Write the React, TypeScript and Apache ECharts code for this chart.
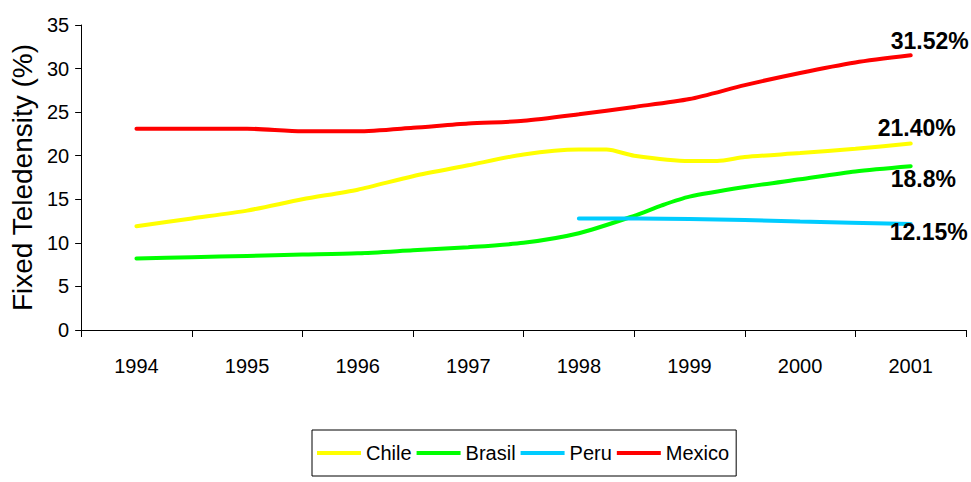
import React, { useEffect, useRef } from "react";
import * as echarts from "echarts";

const years = ["1994", "1995", "1996", "1997", "1998", "1999", "2000", "2001"];
const seriesNames = ["Chile", "Brasil", "Peru", "Mexico"];
const seriesColors = ["#FFFF00", "#00FF00", "#00CCFF", "#FF0000"];

const chileT = [1994, 1994.5, 1995, 1995.5, 1996, 1996.5, 1997, 1997.5, 1998, 1998.25, 1998.5, 1999, 1999.25, 1999.5, 2000, 2000.5, 2001];
const chile = [11.9, 12.8, 13.7, 15.0, 16.1, 17.65, 18.9, 20.15, 20.7, 20.7, 20.0, 19.4, 19.4, 19.85, 20.3, 20.8, 21.4];

const brasilT = [1994, 1994.5, 1995, 1995.5, 1996, 1996.5, 1997, 1997.5, 1998, 1998.5, 1998.75, 1999, 1999.5, 2000, 2000.5, 2001];
const brasil = [8.2, 8.35, 8.5, 8.65, 8.8, 9.15, 9.5, 10.0, 11.1, 13.1, 14.3, 15.3, 16.4, 17.3, 18.2, 18.8];

const peruT = [1998, 1999, 2000, 2001];
const peru = [12.8, 12.75, 12.45, 12.15];

const mexicoT = [1994, 1995, 1995.5, 1996, 1996.5, 1997, 1997.5, 1998, 1998.5, 1999, 1999.5, 2000, 2000.5, 2001];
const mexico = [23.1, 23.1, 22.8, 22.8, 23.2, 23.7, 24.0, 24.75, 25.6, 26.5, 28.1, 29.5, 30.7, 31.52];

const endLabels = ["21.40%", "18.8%", "12.15%", "31.52%"];

const yTitle = "Fixed Teledensity (%)";

const FONT = "'Liberation Sans', Arial, sans-serif";

export default function App() {
  const ref = useRef<HTMLDivElement>(null);
  useEffect(() => {
    if (!ref.current) return;
    const chart = echarts.init(ref.current, undefined, { renderer: "svg" });

    // quarter slots from first boundary to last boundary
    const first = Number(years[0]) - 0.5;
    const last = Number(years[years.length - 1]) + 0.5;
    const slots: string[] = [];
    for (let t = first; t <= last + 1e-9; t += 0.25) slots.push(String(t));

    const ts = [chileT, brasilT, peruT, mexicoT];
    const vs = [chile, brasil, peru, mexico];
    const labelOffsets = [
      [-33, -16],
      [-20, 13],
      [-21, 8],
      [-20, -14],
    ];

    const series = seriesNames.map((name, i) => {
      const data = ts[i].map((t, j) => {
        const isLast = j === ts[i].length - 1;
        const item: any = { value: [String(t), vs[i][j]] };
        if (isLast) {
          item.label = {
            show: true,
            position: "right",
            distance: 0,
            offset: labelOffsets[i],
            formatter: endLabels[i],
            fontFamily: FONT,
            fontWeight: "bold",
            fontSize: 23,
            color: "#000",
          };
        }
        return item;
      });
      return {
        name,
        type: "line",
        data,
        smooth: 0.25,
        showSymbol: true,
        symbol: "circle",
        symbolSize: 0,
        lineStyle: { color: seriesColors[i], width: 4, cap: "round" },
        itemStyle: { color: seriesColors[i] },
        emphasis: { disabled: true },
      };
    });

    chart.setOption({
      animation: false,
      textStyle: { fontFamily: FONT },
      grid: { left: 79, right: 5, top: 25, bottom: 152, containLabel: false },
      xAxis: {
        type: "category",
        data: slots,
        boundaryGap: false,
        axisLine: { show: true, lineStyle: { color: "#000", width: 1 } },
        axisTick: {
          show: true,
          length: 7,
          interval: (index: number) => index % 4 === 0,
          lineStyle: { color: "#000" },
        },
        axisLabel: {
          interval: (index: number) => index % 4 === 2,
          margin: 26,
          fontSize: 20,
          color: "#000",
          fontFamily: FONT,
        },
        splitLine: { show: false },
      },
      yAxis: {
        type: "value",
        min: 0,
        max: 35,
        interval: 5,
        name: yTitle,
        nameLocation: "middle",
        nameGap: 45,
        nameTextStyle: { fontSize: 28, color: "#000", fontFamily: FONT },
        axisLine: { show: true, lineStyle: { color: "#000", width: 1 } },
        axisTick: { show: true, length: 6, lineStyle: { color: "#000" } },
        axisLabel: { fontSize: 20, color: "#000", margin: 12, fontFamily: FONT },
        splitLine: { show: false },
      },
      legend: {
        data: seriesNames,
        left: 312,
        top: 430,
        orient: "horizontal",
        icon: "rect",
        itemWidth: 44,
        itemHeight: 4,
        itemGap: 5,
        borderColor: "#000",
        borderWidth: 1,
        padding: [13, 7, 13, 5],
        textStyle: { fontSize: 20, color: "#000", fontFamily: FONT },
      },
      series,
    });
    return () => chart.dispose();
  }, []);
  return (
    <div
      ref={ref}
      style={{ position: "fixed", left: 0, top: 0, width: 971, height: 482, background: "#fff" }}
    />
  );
}
